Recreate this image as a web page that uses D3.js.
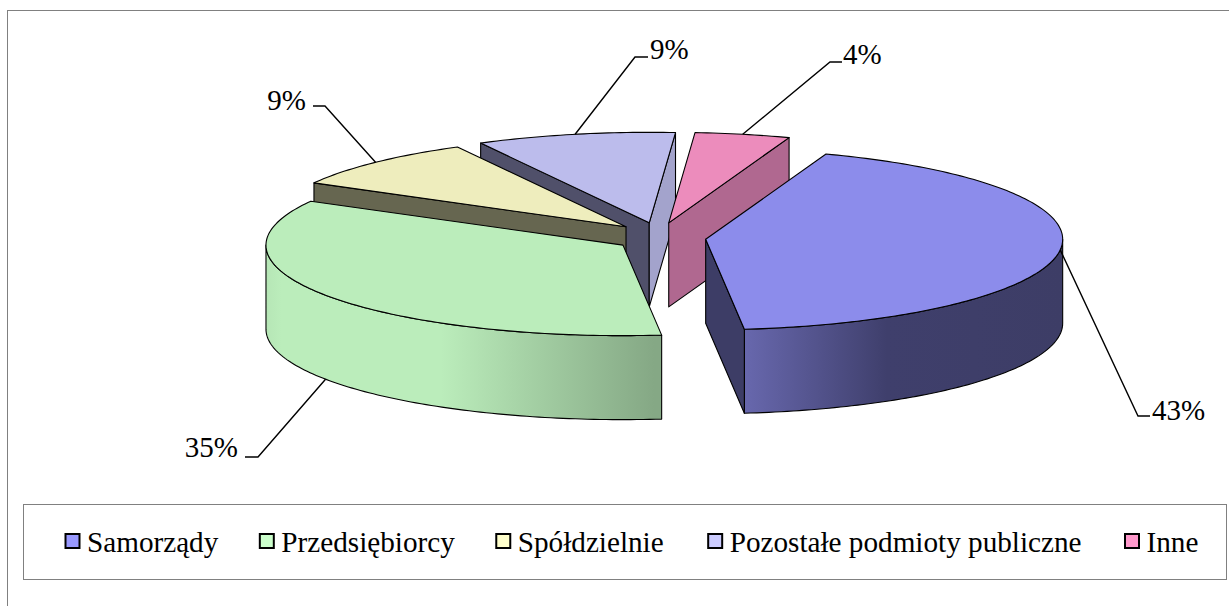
<!DOCTYPE html>
<html><head><meta charset="utf-8">
<style>html,body{margin:0;padding:0;background:#fff;overflow:hidden}svg{display:block}text{font-family:"Liberation Serif","Times New Roman",Times,serif;fill:#000}</style>
<script src="https://cdnjs.cloudflare.com/ajax/libs/d3/7.8.5/d3.min.js"></script>
</head><body><svg id="c" width="1229" height="606"></svg>
<script>
const categories = ["Samorządy","Przedsiębiorcy","Spółdzielnie","Pozostałe podmioty publiczne","Inne"];
const values = [42.8,34.8,9.1,9.0,4.3];
const topColors = ["#8C8CEB","#BBEDBB","#EEEDBD","#BCBCEC","#EC8CBC"];
const cutColors = ["#3D3D66","#85A885","#666650","#50506A","#B06890"];
const legendColors = ["#9999FF","#CCFFCC","#FFFFCC","#CCCCFF","#FF99CC"];

const svg=d3.select("#c");
const rx=357, ry=90.5, depth=84, cx=659, cy=237.5, ex=47, ey=15;
const explodeFactor=[1,0.92,1,1,1];
const deg=Math.PI/180;
const pie=d3.pie().sort(null).startAngle(19.7*deg).endAngle(379.7*deg);
const arcs=pie(values).map((d,i)=>{
  const mid=(d.startAngle+d.endAngle)/2, f=explodeFactor[i];
  return {i,a0:d.startAngle,a1:d.endAngle,mid,ax:cx+f*ex*Math.sin(mid),ay:cy-f*ey*Math.cos(mid)};
});
const pt=(s,a,z=0)=>[s.ax+rx*Math.sin(a),s.ay-ry*Math.cos(a)+z];
const line=d3.line();
const steps=(a,b)=>{const n=Math.max(2,Math.ceil((b-a)/deg));return d3.range(n+1).map(k=>a+(b-a)*k/n)};
const defs=svg.append("defs");
function grad(id,x1,x2,stops){
  const g=defs.append("linearGradient").attr("id",id).attr("gradientUnits","userSpaceOnUse")
    .attr("x1",x1).attr("x2",x2).attr("y1",0).attr("y2",0);
  stops.forEach(s=>g.append("stop").attr("offset",s[0]).attr("stop-color",s[1]));
}
svg.append("rect").attr("x",7.5).attr("y",10.5).attr("width",1240).attr("height",620).attr("fill","#fff").attr("stroke","#808080");

const S=arcs[0],G=arcs[1];
grad("rim0",pt(S,174*deg)[0],pt(S,90*deg)[0],[[0,"#6868AE"],[0.45,"#3F3F6C"],[1,"#3D3D66"]]);
grad("rim1",pt(G,270*deg)[0],pt(G,175*deg)[0],[[0,"#B6E6B6"],[0.04,"#BBEDBB"],[0.45,"#BBEDBB"],[1,"#85A885"]]);

const st={stroke:"#000","stroke-width":1.1,"stroke-linejoin":"round"};
const draw=(d,fill)=>{const p=svg.append("path").attr("d",line(d)+"Z").attr("fill",fill);Object.entries(st).forEach(([k,v])=>p.attr(k,v));return p};
function slice(s){
  const c=cutColors[s.i], apex=[s.ax,s.ay], apexB=[s.ax,s.ay+depth];
  const lo=Math.max(s.a0,90*deg), hi=Math.min(s.a1,270*deg);
  if(hi>lo){
    const as=steps(lo,hi);
    const rimFill=s.i<2?`url(#rim${s.i})`:c;
    draw(as.map(a=>pt(s,a)).concat(as.slice().reverse().map(a=>pt(s,a,depth))),rimFill);
  }
  if(s.i===0){ draw([apex,pt(s,s.a1),pt(s,s.a1,depth),apexB],c); }
  if(s.i===2||s.i===3){ draw([apex,pt(s,s.a0),pt(s,s.a0,depth),apexB],c); }
  if(s.i===3){ draw([apex,pt(s,s.a1),pt(s,s.a1,depth),apexB],"#A3A3CC"); }
  if(s.i===4){ draw([apex,pt(s,s.a1),pt(s,s.a1,depth),apexB],c); }
  draw([apex].concat(steps(s.a0,s.a1).map(a=>pt(s,a))),topColors[s.i]);
}
[3,4,2,1,0].forEach(i=>slice(arcs[i]));

const fmt=d3.format(".0%");
const total=d3.sum(values);
const leaders=[
 {z:0,elbow:[1138,416],end:[1150,416],tx:1152,ty:420,anchor:"start"},
 {z:depth,elbow:[258,457],end:[245,457],tx:238,ty:457,anchor:"end"},
 {z:0,elbow:[325,106],end:[313,106],tx:306,ty:110,anchor:"end"},
 {z:0,elbow:[635,57],end:[648,57],tx:650,ty:59,anchor:"start"},
 {z:0,elbow:[830,62],end:[842,62],tx:843,ty:64,anchor:"start"}
];
arcs.forEach((s,i)=>{
  const l=leaders[i];
  svg.append("path").attr("d",line([pt(s,s.mid,l.z),l.elbow,l.end])).attr("fill","none").attr("stroke","#000").attr("stroke-width",1.4);
  svg.append("text").attr("x",l.tx).attr("y",l.ty).attr("text-anchor",l.anchor).attr("font-size",29).text(fmt(values[i]/total));
});

svg.append("rect").attr("x",23.5).attr("y",504.5).attr("width",1203).attr("height",75).attr("fill","#fff").attr("stroke","#808080");
const legendGaps=[41,41,44,43,0];
let x=65;
categories.forEach((c,i)=>{
  svg.append("rect").attr("x",x+0.5).attr("y",534).attr("width",14).attr("height",14).attr("fill",legendColors[i]).attr("stroke","#000").attr("stroke-width",2);
  const t=svg.append("text").attr("x",x+22).attr("y",552).attr("font-size",29.2).text(c);
  x+=22+t.node().getComputedTextLength()+legendGaps[i];
});
</script></body></html>
